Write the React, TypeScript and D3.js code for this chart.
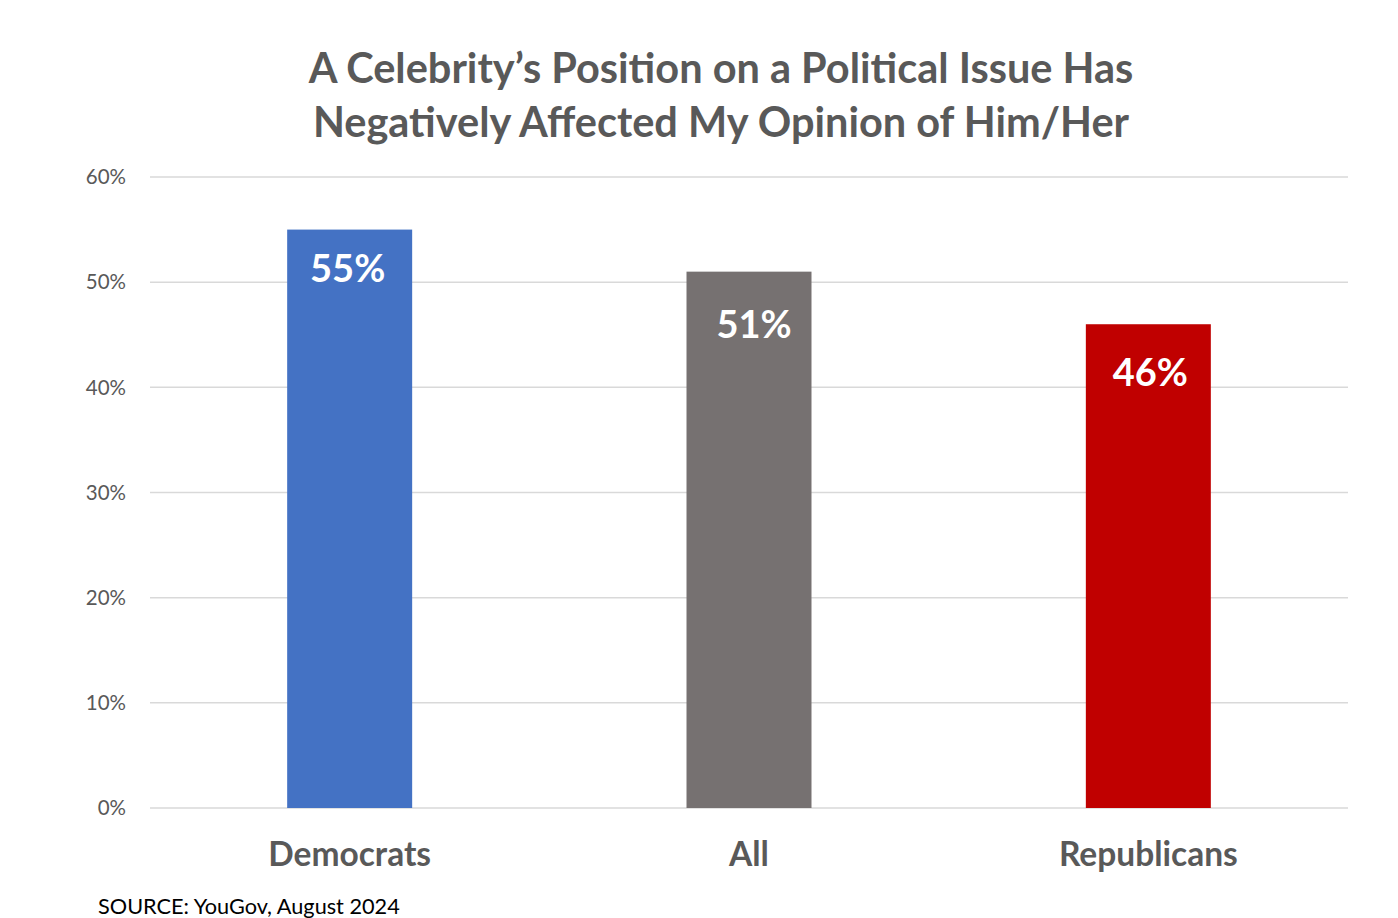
import React from "react";
import * as d3 from "d3";

const categories = ["Democrats", "All", "Republicans"];
const values = [0.55, 0.51, 0.46];
const yTicks = [0, 0.1, 0.2, 0.3, 0.4, 0.5, 0.6];
const titleLines = [
  "A Celebrity\u2019s Position on a Political Issue Has",
  "Negatively Affected My Opinion of Him/Her",
];
const sourceText = "SOURCE: YouGov, August 2024";

const COLORS = ["#4472C4", "#767171", "#C00000"];
const LABEL_DY = [52, 66, 62];
const LABEL_DX = [-2, 5, 2];
const FONT = "Lato, 'Open Sans', sans-serif";

export default function App() {
  const W = 1398;
  const H = 918;
  const x = d3
    .scaleBand<string>()
    .domain(categories)
    .range([150, 1348])
    .paddingInner(0.687)
    .paddingOuter(0.3435);
  const y = d3.scaleLinear().domain([0, 0.6]).range([808, 177]);
  const fmt = d3.format(".0%");

  return (
    <div style={{ position: "absolute", left: 0, top: 0 }}>
      <svg width={W} height={H} style={{ display: "block", background: "#fff" }}>
        <g fontFamily={FONT}>
          {titleLines.map((t, i) => (
            <text
              key={i}
              x={721}
              y={83 + i * 54}
              textAnchor="middle"
              fontSize={41.5}
              fontWeight={700}
              fill="#595959"
            >
              {t}
            </text>
          ))}
          {yTicks.map((t) => (
            <g key={t}>
              <line
                x1={150}
                x2={1348}
                y1={y(t)}
                y2={y(t)}
                stroke="#d9d9d9"
                strokeWidth={1.5}
              />
              <text
                x={126}
                y={y(t)}
                dy="0.35em"
                textAnchor="end"
                fontSize={20.5}
                fill="#595959"
              >
                {fmt(t)}
              </text>
            </g>
          ))}
          {categories.map((c, i) => {
            const bx = x(c) as number;
            const bw = x.bandwidth();
            return (
              <g key={c}>
                <rect
                  x={bx}
                  y={y(values[i])}
                  width={bw}
                  height={y(0) - y(values[i])}
                  fill={COLORS[i]}
                />
                <text
                  x={bx + bw / 2 + LABEL_DX[i]}
                  y={y(values[i]) + LABEL_DY[i]}
                  textAnchor="middle"
                  fontSize={38}
                  fontWeight={700}
                  fill="#ffffff"
                >
                  {fmt(values[i])}
                </text>
                <text
                  x={bx + bw / 2}
                  y={866}
                  textAnchor="middle"
                  fontSize={33.5}
                  fontWeight={700}
                  fill="#595959"
                >
                  {c}
                </text>
              </g>
            );
          })}
          <text x={98} y={914} fontSize={21.7} fill="#000">
            {sourceText}
          </text>
        </g>
      </svg>
    </div>
  );
}
